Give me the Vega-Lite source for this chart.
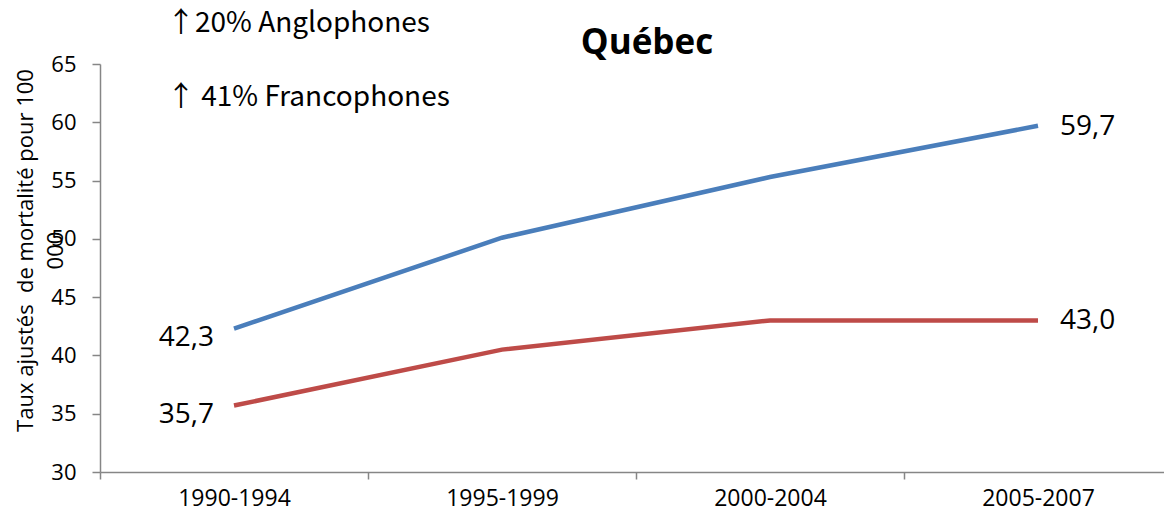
{
  "$schema": "https://vega.github.io/schema/vega-lite/v6.json",
  "autosize": "none",
  "width": 1064,
  "height": 408,
  "padding": {"left": 100, "top": 64, "right": 0, "bottom": 46},
  "background": "white",
  "config": {
    "view": {"stroke": null},
    "font": "Open Sans",
    "locale": {"number": {"decimal": ",", "thousands": " ", "grouping": [3], "currency": ["", " €"]}}
  },
  "datasets": {
    "series": [
      {"period": "1990-1994", "groupe": "Francophones", "taux": 42.3},
      {"period": "1995-1999", "groupe": "Francophones", "taux": 50.1},
      {"period": "2000-2004", "groupe": "Francophones", "taux": 55.3},
      {"period": "2005-2007", "groupe": "Francophones", "taux": 59.7},
      {"period": "1990-1994", "groupe": "Anglophones", "taux": 35.7},
      {"period": "1995-1999", "groupe": "Anglophones", "taux": 40.5},
      {"period": "2000-2004", "groupe": "Anglophones", "taux": 43.0},
      {"period": "2005-2007", "groupe": "Anglophones", "taux": 43.0}
    ],
    "notes": [
      {"period": "1990-1994", "note": "↑20% Anglophones", "taux": 68.4},
      {"period": "1990-1994", "note": "↑ 41% Francophones", "taux": 62.1}
    ],
    "titre": [
      {"period": "2000-2004", "note": "Québec", "taux": 66.8}
    ]
  },
  "layer": [
    {
      "data": {"name": "series"},
      "mark": {"type": "line", "strokeWidth": 4.5, "clip": false},
      "encoding": {
        "x": {
          "field": "period", "type": "nominal", "sort": null,
          "scale": {"type": "band", "paddingInner": 0, "paddingOuter": 0, "range": [0, 1072]},
          "axis": {
            "title": null,
            "labelAngle": 0,
            "labelFontSize": 23,
            "labelColor": "black",
            "labelPadding": 8,
            "tickBand": "extent",
            "tickSize": 7,
            "tickColor": "#868686",
            "tickWidth": 1.5,
            "domainColor": "#868686",
            "domainWidth": 1.5,
            "grid": false
          }
        },
        "y": {
          "field": "taux", "type": "quantitative",
          "scale": {"domain": [30, 65], "nice": false, "zero": false},
          "axis": {
            "values": [30, 35, 40, 45, 50, 55, 60, 65],
            "title": ["Taux ajustés \u00a0de mortalité pour 100", "000"],
            "titleFontSize": 22,
            "titleFontWeight": "normal",
            "titleColor": "black",
            "titleAngle": -90,
            "titleAlign": "center",
            "titleBaseline": "alphabetic",
            "titleLineHeight": 30,
            "titleX": -68,
            "titleY": 186,
            "labelFontSize": 22,
            "labelColor": "black",
            "labelPadding": 16,
            "tickSize": 8,
            "tickColor": "#868686",
            "tickWidth": 1.5,
            "domainColor": "#868686",
            "domainWidth": 1.5,
            "grid": false
          }
        },
        "color": {
          "field": "groupe", "type": "nominal",
          "scale": {"domain": ["Francophones", "Anglophones"], "range": ["#4A7EBB", "#BE4B48"]},
          "legend": null
        }
      }
    },
    {
      "data": {"name": "series"},
      "transform": [{"filter": "datum.period === '1990-1994'"}],
      "mark": {"type": "text", "align": "right", "baseline": "middle", "dx": -20, "dy": 9, "fontSize": 28, "color": "black"},
      "encoding": {
        "x": {"field": "period", "type": "nominal", "sort": null},
        "y": {"field": "taux", "type": "quantitative"},
        "text": {"field": "taux", "type": "quantitative", "format": ".1f"}
      }
    },
    {
      "data": {"name": "series"},
      "transform": [{"filter": "datum.period === '2005-2007'"}],
      "mark": {"type": "text", "align": "left", "baseline": "middle", "dx": 22, "dy": 1, "fontSize": 28, "color": "black"},
      "encoding": {
        "x": {"field": "period", "type": "nominal", "sort": null},
        "y": {"field": "taux", "type": "quantitative"},
        "text": {"field": "taux", "type": "quantitative", "format": ".1f"}
      }
    },
    {
      "data": {"name": "notes"},
      "mark": {"type": "text", "align": "left", "baseline": "middle", "dx": -67, "fontSize": 28, "font": "Noto Sans CJK JP", "color": "black"},
      "encoding": {
        "x": {"field": "period", "type": "nominal", "sort": null},
        "y": {"field": "taux", "type": "quantitative"},
        "text": {"field": "note", "type": "nominal"}
      }
    },
    {
      "data": {"name": "titre"},
      "mark": {"type": "text", "align": "center", "baseline": "middle", "dx": 11, "fontSize": 35, "fontWeight": "bold", "color": "black"},
      "encoding": {
        "x": {"field": "period", "type": "nominal", "sort": null, "bandPosition": 0},
        "y": {"field": "taux", "type": "quantitative"},
        "text": {"field": "note", "type": "nominal"}
      }
    }
  ]
}
